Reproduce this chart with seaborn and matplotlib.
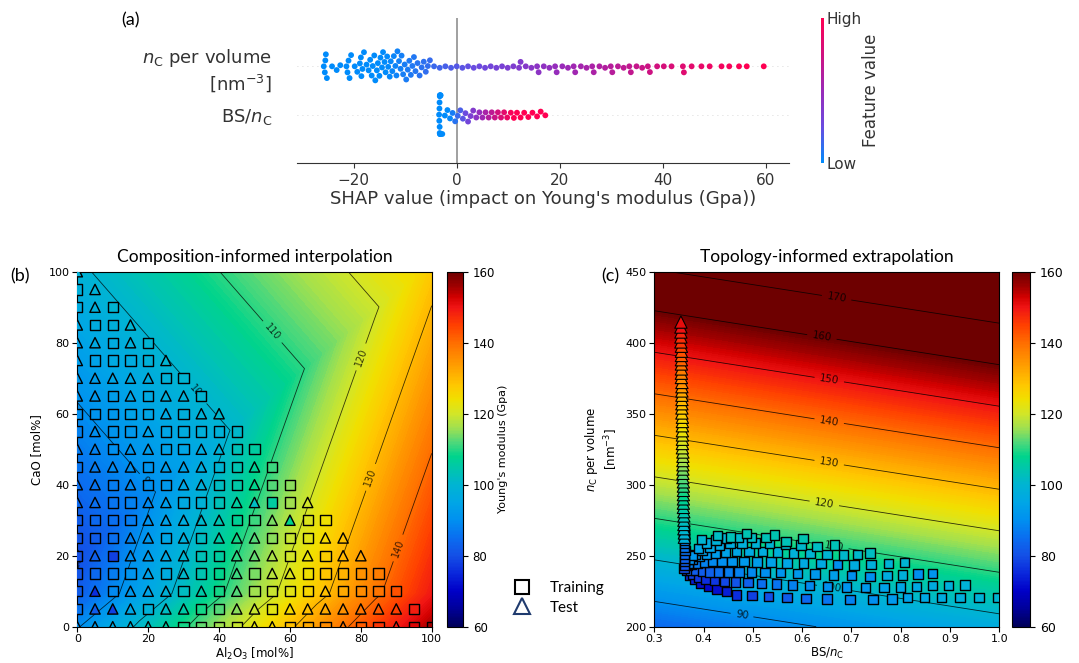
import numpy as np
import pandas as pd
import matplotlib
matplotlib.use("Agg")
import matplotlib.pyplot as plt
import matplotlib.tri as mtri
from matplotlib.colors import LinearSegmentedColormap, Normalize
from matplotlib.cm import ScalarMappable
from matplotlib.lines import Line2D
import seaborn as sns

plt.rcParams["font.family"] = ["DejaVu Sans"]
plt.rcParams["mathtext.fontset"] = "dejavusans"

# ---------------------------------------------------------------- (a) SHAP
FEATURES = ["$n_\\mathrm{C}$ per volume\n[nm$^{-3}$]", "BS/$n_\\mathrm{C}$"]

nc_shap = [
    -25.8, -25.6, -25.5, -25.4, -25.2,
    -24.2, -23.3, -22.6,
    -21.4, -21.2, -21.0, -20.8, -20.5,
    -19.8, -19.3,
    -18.8, -18.6, -18.5, -18.3, -18.0,
    -17.5, -17.1, -16.8, -16.5, -16.3, -16.0, -15.8, -15.5, -15.3, -15.0,
    -14.8, -14.5, -14.3, -14.0, -13.8, -13.5, -13.3, -13.0, -12.8, -12.5,
    -12.2, -11.9, -11.7, -11.5, -11.2, -10.9, -10.7, -10.4, -10.1, -9.8,
    -9.5, -9.2, -8.9, -8.6, -8.3, -8.0,
    -7.6, -7.2, -6.8, -6.4, -6.0, -5.6, -5.2,
    -4.4, -3.3, -2.2, -1.1, 0.0, 1.1, 2.2, 3.3, 4.4, 5.5, 6.6, 7.7, 8.8,
    9.9, 11.0, 12.1, 12.4, 13.4, 14.5, 15.6, 15.9, 16.9, 18.0, 19.1, 19.4,
    20.5, 21.6, 22.7, 23.0, 24.1, 25.2, 26.3, 26.6, 27.7, 28.8, 29.9, 30.2,
    31.3, 32.4, 33.5, 33.8, 34.9, 36.0, 37.1, 37.5,
    38.9, 40.2, 41.7, 43.9, 44.1, 45.6, 47.5, 49.1, 51.4, 52.9, 54.8, 56.3,
    59.6,
]
bs_shap = [
    -3.42, -3.38, -3.35, -3.33, -3.31, -3.30, -3.28, -3.27, -3.25, -3.23,
    -3.21, -3.19, -3.16, -3.12,
    -2.8, -2.3, -1.8, -1.3, -0.8, -0.3, 0.2, 0.7, 1.2, 1.7, 2.2, 2.7, 3.2,
    3.8, 4.4, 5.0, 5.6, 6.2, 6.8, 7.4, 8.0, 8.6, 9.2, 9.8,
    10.5, 11.1, 11.7, 12.4, 13.1, 13.9, 14.7, 15.6, 16.3, 17.2,
]

# ---------------------------------------------------------------- (b) composition map
# model surface sampled at composition nodes (mol%) with the predicted modulus (GPa)
field_b_al2o3 = [0, 100, 0, 100, 0, 0, 97.1, 100]
field_b_cao = [0, 0, 9.3, 9.3, 19.7, 100, 100, 100]
field_b_E = [89.5, 155.5, 82.0, 149.5, 79.5, 98.9, 125.7, 127.7]
field_b_triangles = [[0, 1, 3], [0, 3, 2], [2, 3, 4], [4, 3, 7], [4, 7, 6], [4, 6, 5]]

al2o3_grid = [0, 5, 10, 15, 20, 25, 30, 35, 40, 45, 50, 55, 60, 65, 70, 75, 80, 85, 90, 95, 100]
cao_rows = [0, 5, 10, 15, 20, 25, 30, 35, 40, 45, 50, 55, 60, 65, 70, 75, 80, 85, 90, 95, 100]
# S = training glass, T = test glass, along each CaO row
set_rows = [
    "TTTTTTSSSSTTSSSTSSTSS", "STTTSTTSSTTSTTTTTTTS", "STSTTTSTSTSSSSTSSSS",
    "SSSSTSTSSTSTTSSSSS", "STSTTTTSSTTTSTSTT", "SSSTTSTSTTTSSSTT",
    "SSSSTTTTTSSTTSS", "TTSSTTSSSTTSST", "TTSTSSTTSSTSS", "STTTSTTTSSTS",
    "TTSTTSSTTSS", "STSSTSSSSS", "SSSSSTSTT", "TTSTSTTS", "TTTTTSS", "TSSSST",
    "TTSTS", "TSST", "STS", "ST", "T",
]
E_rows = [
    [90, 93, 96, 99, 103, 106, 109, 113, 116, 119, 122, 126, 129, 132, 136, 139, 142, 146, 149, 152, 156],
    [86, 82, 78, 95, 99, 102, 105, 109, 112, 115, 119, 122, 125, 129, 132, 135, 139, 142, 145, 149],
    [82, 76, 89, 92, 95, 99, 102, 105, 109, 112, 116, 119, 122, 126, 129, 132, 136, 139, 143],
    [81, 84, 87, 91, 94, 97, 101, 104, 108, 111, 114, 118, 121, 124, 128, 131, 135, 138],
    [80, 83, 78, 90, 93, 96, 100, 103, 106, 110, 113, 117, 120, 123, 127, 130, 133],
    [81, 82, 85, 88, 92, 95, 98, 102, 105, 109, 112, 115, 119, 122, 125, 129],
    [82, 84, 85, 87, 91, 94, 97, 101, 104, 107, 111, 114, 108, 121, 124],
    [84, 85, 86, 88, 89, 93, 96, 99, 103, 106, 102, 106, 116, 120],
    [85, 86, 87, 89, 90, 92, 95, 98, 102, 105, 108, 112, 115],
    [86, 87, 89, 90, 91, 93, 94, 97, 100, 104, 107, 111],
    [87, 88, 90, 91, 93, 94, 95, 97, 99, 103, 106],
    [88, 90, 91, 92, 94, 95, 97, 98, 99, 101],
    [90, 91, 92, 94, 95, 96, 98, 99, 101],
    [91, 92, 93, 95, 96, 98, 99, 100],
    [92, 93, 95, 96, 97, 99, 100],
    [93, 94, 96, 97, 99, 100],
    [94, 96, 97, 98, 100],
    [96, 97, 98, 100],
    [97, 98, 100],
    [98, 99],
    [99],
]

# ---------------------------------------------------------------- (c) topology map
field_c_bsnc = [0.3, 1.0, 0.3, 1.0]
field_c_nc = [200, 200, 450, 450]
field_c_E = [83.9, 96.9, 169.4, 182.4]

train_c_bsnc = [
    0.372, 0.382, 0.395, 0.410, 0.427, 0.447, 0.467, 0.498, 0.532, 0.569, 0.608, 0.650, 0.697, 0.744, 0.782, 0.814, 0.848, 0.883, 0.920, 0.959, 0.996,
    0.366, 0.377, 0.390, 0.405, 0.422, 0.442, 0.465, 0.490, 0.518, 0.548, 0.580, 0.615, 0.652, 0.690, 0.728, 0.766, 0.800, 0.832, 0.864, 0.897, 0.930,
    0.365, 0.374, 0.385, 0.398, 0.413, 0.430, 0.450, 0.472, 0.497, 0.525, 0.556, 0.590, 0.626, 0.664, 0.700, 0.738, 0.772, 0.804, 0.835, 0.865,
    0.366, 0.376, 0.388, 0.402, 0.418, 0.437, 0.458, 0.482, 0.508, 0.537, 0.569, 0.603, 0.638, 0.672, 0.705, 0.740, 0.775, 0.808,
    0.368, 0.378, 0.391, 0.406, 0.424, 0.444, 0.467, 0.492, 0.520, 0.550, 0.582, 0.616, 0.650, 0.684, 0.712, 0.738,
    0.372, 0.383, 0.397, 0.413, 0.432, 0.454, 0.478, 0.505, 0.534, 0.566, 0.598, 0.630, 0.666,
    0.377, 0.390, 0.406, 0.425, 0.446, 0.470, 0.497, 0.527, 0.567, 0.602,
    0.396, 0.4285, 0.455, 0.487, 0.5435,
    0.360, 0.361, 0.361, 0.361, 0.361, 0.362, 0.361, 0.361, 0.361, 0.360, 0.360, 0.360,
]
train_c_nc = [
    236.5, 233.5, 230.5, 228.5, 226.5, 224.6, 222.3, 221.8, 221.1, 220.4, 219.9, 219.5, 219.3, 219.3, 219.5, 220.4, 220.4, 220.7, 220.7, 220.4, 220.4,
    239.5, 237.0, 235.0, 233.5, 232.5, 232.0, 231.5, 231.0, 230.5, 230.0, 229.5, 229.0, 228.5, 228.0, 227.5, 227.5, 228.0, 228.5, 229.0, 229.2, 229.4,
    241.0, 240.0, 239.5, 239.0, 238.5, 238.5, 238.5, 238.5, 238.5, 238.0, 238.0, 237.5, 237.0, 236.5, 236.0, 235.5, 236.0, 236.5, 237.0, 237.6,
    243.0, 244.0, 245.0, 245.5, 246.0, 246.0, 246.0, 246.0, 245.5, 245.5, 245.0, 245.0, 244.5, 244.0, 243.5, 244.0, 244.5, 245.1,
    245.0, 247.5, 249.5, 251.0, 252.0, 252.5, 253.0, 253.0, 253.0, 252.5, 252.0, 251.5, 251.0, 250.5, 251.0, 251.9,
    247.5, 251.0, 254.0, 256.0, 257.5, 258.5, 259.0, 259.0, 258.5, 258.0, 257.5, 256.3, 257.5,
    250.0, 255.0, 259.0, 261.0, 262.5, 263.0, 263.0, 262.9, 260.1, 262.0,
    261.5, 264.3, 263.1, 265.7, 264.6,
    241.0, 243.5, 246.0, 248.5, 251.0, 253.5, 256.0, 258.5, 261.0, 263.5, 266.0, 268.5,
]
train_c_E = [
    76, 74, 72, 71, 72, 74, 76, 78, 80, 82, 84, 86, 88, 90, 92, 94, 96, 97, 98, 99, 100,
    80, 78, 77, 76, 77, 79, 81, 83, 85, 86, 88, 89, 90, 91, 92, 94, 95, 96, 97, 98, 99,
    84, 83, 82, 82, 83, 85, 87, 88, 89, 90, 91, 92, 92, 93, 90, 90, 97, 98, 90, 91,
    86, 86, 87, 88, 89, 90, 91, 92, 93, 94, 95, 96, 96, 90, 97, 98, 99, 100,
    88, 89, 91, 92, 93, 94, 95, 96, 97, 98, 99, 100, 100, 101, 101, 102,
    90, 92, 94, 95, 96, 97, 98, 99, 100, 101, 101, 102, 103,
    92, 95, 97, 99, 100, 101, 102, 103, 103, 104,
    100, 102, 103, 104, 104,
    80, 81, 82, 83, 84, 85, 86, 87, 88, 89, 90, 91,
]
test_c_nc = [
    414.5, 411, 407.5, 404, 400.5, 397.5, 394, 391, 388, 385, 381.5, 378.5, 375.5,
    372, 369, 366, 363, 360, 357, 354, 350.5, 347.5, 344.5, 341.5, 338, 335, 332,
    329, 326, 323, 320, 317, 314, 311, 308, 305, 302, 299, 296, 293, 290, 287,
    284, 281, 278, 275, 272, 269, 266, 263,
]
test_c_bsnc = [
    0.354, 0.354, 0.354, 0.354, 0.354, 0.355, 0.355, 0.355, 0.355, 0.355,
    0.355, 0.355, 0.355, 0.356, 0.356, 0.356, 0.356, 0.356, 0.356, 0.356,
    0.356, 0.357, 0.357, 0.357, 0.357, 0.357, 0.357, 0.357, 0.357, 0.358,
    0.358, 0.358, 0.358, 0.358, 0.358, 0.358, 0.359, 0.359, 0.359, 0.359,
    0.359, 0.359, 0.359, 0.360, 0.360, 0.360, 0.360, 0.360, 0.361, 0.361,
]
test_c_E = [
    151, 150, 148, 147, 146, 144, 143, 142, 141, 139, 138, 137, 136, 135, 134,
    132, 131, 130, 129, 128, 127, 126, 125, 124, 123, 122, 121, 120, 119, 118,
    117, 116, 115, 114, 113, 112, 111, 110, 109, 108, 107, 106, 105, 104, 103,
    102, 101, 100, 99, 98,
]

# ---------------------------------------------------------------- styling
W, H = 1079, 663
fig = plt.figure(figsize=(W / 100, H / 100), dpi=100)


def rect(x0, y0, x1, y1):
    """Axes rectangle from pixel corners (top-left origin)."""
    return [x0 / W, 1 - y1 / H, (x1 - x0) / W, (y1 - y0) / H]


TITLE_FONT = ["Lato", "DejaVu Sans"]

# rainbow colour scale for the modulus, anchored on 60..160 GPa
_modulus_stops = [
    (60, "#00005a"), (65, "#00009a"), (70, "#0000c8"), (75, "#0a28dc"),
    (80, "#1450e6"), (85, "#0a6ef0"), (90, "#0090f0"), (95, "#00a6e6"),
    (100, "#00b4d2"), (105, "#00c8a8"), (108, "#00d48c"), (112, "#50d87a"),
    (116, "#a0e050"), (120, "#d2e628"), (124, "#f0e000"), (128, "#ffc800"),
    (132, "#ffaa00"), (136, "#ff8c00"), (140, "#ff6e00"), (145, "#ff4000"),
    (150, "#f01414"), (153, "#d20000"), (156, "#a00000"), (160, "#6e0000"),
]
MOD_CMAP = LinearSegmentedColormap.from_list(
    "modulus", [((v - 60) / 100, c) for v, c in _modulus_stops])
E_NORM = Normalize(60, 160)
E_LEVELS = np.linspace(60, 185, 251)

# ---- (a) beeswarm of SHAP values
shap_cmap = LinearSegmentedColormap.from_list(
    "shap_rb", ["#008bfb", "#6a4be0", "#9a2ab8", "#d0117f", "#ff0052"])
axa = fig.add_axes(rect(297, 18, 789, 163))
for feat, vals, norm in [(FEATURES[0], nc_shap, (-14, 56)), (FEATURES[1], bs_shap, (-1.5, 11))]:
    d = pd.DataFrame({"shap": vals, "feature": feat})
    sns.swarmplot(data=d, x="shap", y="feature", order=FEATURES, hue="shap",
                  palette=shap_cmap, hue_norm=norm, size=4.2, linewidth=0,
                  legend=False, warn_thresh=1.0, ax=axa, zorder=3)
axa.axvline(0, color="#999999", lw=1.3, zorder=1)
for pos in (0, 1):
    axa.axhline(pos, color="#cccccc", lw=0.6, dashes=(1, 5), zorder=0)
axa.set_ylim(2, -1)
axa.set_xlim(-31, 64.5)
axa.set_xticks([-20, 0, 20, 40, 60])
for s in ("top", "right", "left"):
    axa.spines[s].set_visible(False)
axa.spines["bottom"].set_color("#333333")
axa.tick_params(axis="y", length=0, labelsize=13, labelcolor="#333333", pad=18)
axa.tick_params(axis="x", labelsize=11, colors="#333333")
axa.set_ylabel("")
axa.set_xlabel("SHAP value (impact on Young's modulus (Gpa))", fontsize=13,
               color="#333333", labelpad=2)

caxa = fig.add_axes(rect(821, 18, 824, 163))
cba = fig.colorbar(ScalarMappable(norm=Normalize(0, 1), cmap=shap_cmap), cax=caxa, ticks=[0, 1])
cba.set_ticklabels(["Low", "High"])
cba.outline.set_visible(False)
caxa.tick_params(length=0, labelsize=11, colors="#333333", pad=2)
cba.set_label("Feature value", size=12, labelpad=0, color="#333333")

# ---- (b) composition-informed interpolation
axb = fig.add_axes(rect(77.3, 271.7, 431.7, 626.7))
tri_b = mtri.Triangulation(field_b_al2o3, field_b_cao, triangles=field_b_triangles)
axb.tricontourf(tri_b, field_b_E, levels=E_LEVELS, cmap=MOD_CMAP, norm=E_NORM, antialiased=False)
cs_b = axb.tricontour(tri_b, field_b_E, levels=[80, 90, 100, 110, 120, 130, 140],
                      colors="k", linewidths=0.6, alpha=0.75)
axb.clabel(cs_b, fmt="%d", fontsize=7,
           manual=[(0.5, 18), (20, 41), (34, 66), (55, 83), (80, 76), (83, 42), (91, 22)])

rows = []
for cao, sets, evals in zip(cao_rows, set_rows, E_rows):
    for al, code, e in zip(al2o3_grid, sets, evals):
        rows.append({"Al2O3": al, "CaO": cao, "E": e,
                     "set": "Training" if code == "S" else "Test"})
df_b = pd.DataFrame(rows)
sns.scatterplot(data=df_b, x="Al2O3", y="CaO", hue="E", palette=MOD_CMAP, hue_norm=(60, 160),
                style="set", markers={"Training": "s", "Test": "^"}, s=55,
                edgecolor="black", linewidth=1.0, legend=False, ax=axb, zorder=4)
axb.set_xlim(0, 100)
axb.set_ylim(0, 100)
axb.set_xticks(range(0, 101, 20))
axb.set_yticks(range(0, 101, 20))
axb.tick_params(labelsize=8, pad=2)
axb.set_xlabel("Al$_2$O$_3$ [mol%]", fontsize=8.5, labelpad=1)
axb.set_ylabel("CaO [mol%]", fontsize=8.5)
axb.set_title("Composition-informed interpolation", fontsize=12.5, family=TITLE_FONT, pad=7)

caxb = fig.add_axes(rect(447, 271.7, 463, 626.7))
cbb = fig.colorbar(ScalarMappable(norm=E_NORM, cmap=MOD_CMAP), cax=caxb, ticks=range(60, 161, 20))
caxb.tick_params(labelsize=8.5)
cbb.set_label("Young's modulus (Gpa)", fontsize=8, labelpad=2)

# ---- (c) topology-informed extrapolation
axc = fig.add_axes(rect(654.3, 271.7, 999.3, 626.7))
tri_c = mtri.Triangulation(field_c_bsnc, field_c_nc)
axc.tricontourf(tri_c, field_c_E, levels=E_LEVELS, cmap=MOD_CMAP, norm=E_NORM, antialiased=False)
cs_c = axc.tricontour(tri_c, field_c_E, levels=[90, 100, 110, 120, 130, 140, 150, 160, 170],
                      colors="k", linewidths=0.6, alpha=0.8)
axc.clabel(cs_c, fmt="%d", fontsize=7.5,
           manual=[(0.48, 213), (0.66, 228), (0.665, 258), (0.645, 287), (0.655, 316),
                   (0.655, 345), (0.655, 374), (0.64, 404), (0.67, 432)])

# markers stacked from low to high n_C so each upper marker sits on top
df_train_c = pd.DataFrame({"BSnC": train_c_bsnc, "nC": train_c_nc, "E": train_c_E})
df_test_c = pd.DataFrame({"BSnC": test_c_bsnc, "nC": test_c_nc, "E": test_c_E}).sort_values("nC")
sns.scatterplot(data=df_train_c, x="BSnC", y="nC", hue="E", palette=MOD_CMAP, hue_norm=(60, 160),
                marker="s", s=46, edgecolor="black", linewidth=1.0, legend=False, ax=axc, zorder=4)
sns.scatterplot(data=df_test_c, x="BSnC", y="nC", hue="E", palette=MOD_CMAP, hue_norm=(60, 160),
                marker="^", s=78, edgecolor="black", linewidth=0.8, legend=False, ax=axc, zorder=5)
axc.set_xlim(0.3, 1.0)
axc.set_ylim(200, 450)
axc.set_xticks([0.3, 0.4, 0.5, 0.6, 0.7, 0.8, 0.9, 1.0])
axc.set_yticks(range(200, 451, 50))
axc.tick_params(labelsize=8, pad=2)
axc.set_xlabel("BS/$n_\\mathrm{C}$", fontsize=8.5, labelpad=1)
axc.set_ylabel("$n_\\mathrm{C}$ per volume\n[nm$^{-3}$]", fontsize=8.5)
axc.set_title("Topology-informed extrapolation", fontsize=12.5, family=TITLE_FONT, pad=7)

caxc = fig.add_axes(rect(1012, 271.7, 1030, 626.7))
fig.colorbar(ScalarMappable(norm=E_NORM, cmap=MOD_CMAP), cax=caxc, ticks=range(60, 161, 20))
caxc.tick_params(labelsize=9)

# ---- legend shared by (b) and (c)
handles = [
    Line2D([], [], ls="", marker="s", ms=10, mfc="white", mec="black", mew=1.5),
    Line2D([], [], ls="", marker="^", ms=11, mfc="white", mec="#1f3a6e", mew=1.5),
]
fig.legend(handles, ["Training", "Test"], loc="center left",
           bbox_to_anchor=(493 / W, 1 - 598 / H), frameon=False,
           prop={"family": TITLE_FONT, "size": 11}, labelspacing=0.35,
           handletextpad=0.8)

# ---- panel letters
for txt, (px, py) in {"(a)": (131, 20), "(b)": (20, 276), "(c)": (610, 276)}.items():
    fig.text(px / W, 1 - py / H, txt, fontsize=13, family=TITLE_FONT, ha="center", va="center")

fig.savefig("out.png", dpi=100)
